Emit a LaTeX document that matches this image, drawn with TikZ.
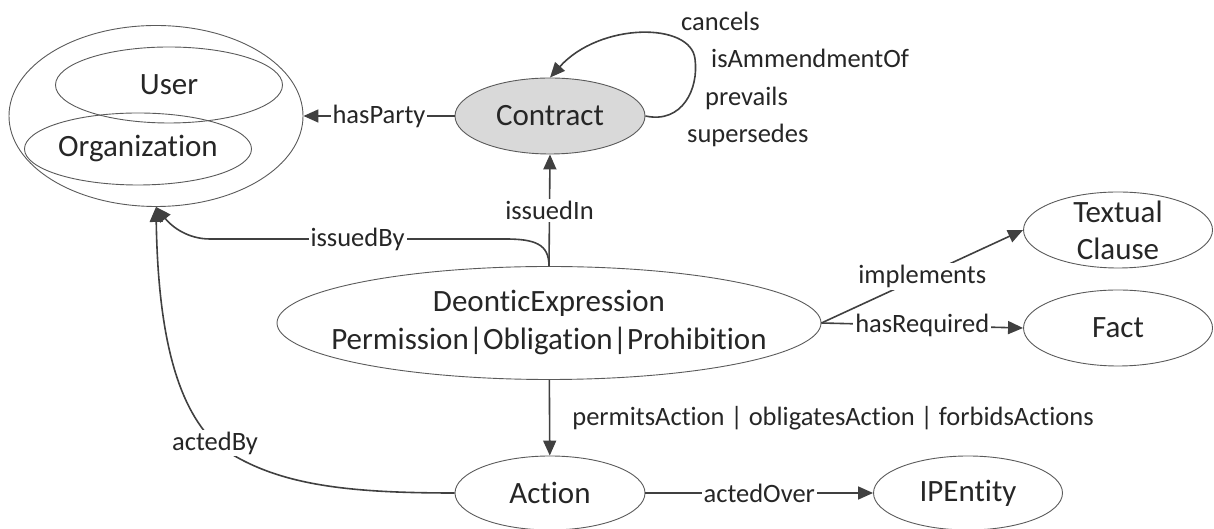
\documentclass[tikz,border=0pt]{standalone}
\usepackage{fontspec}
\setmainfont{Carlito}[Ligatures=NoCommon]
\usetikzlibrary{shapes.geometric,arrows.meta}
\definecolor{edgegray}{HTML}{404040}
\definecolor{rimgray}{HTML}{5A5A5A}
\definecolor{contractgray}{HTML}{D9D9D9}
\begin{document}
\begin{tikzpicture}[x=1pt, y=1pt, >={Triangle[length=15pt,width=13pt]}]
	\tikzstyle{concept} = [ellipse, draw=rimgray, line width=0.9pt, inner sep=0pt, align=center, text=black!85, font=\fontsize{31}{38}\selectfont]
	\tikzstyle{rel} = [fill=white, inner sep=2pt, text=black!85, font=\fontsize{26.5}{32}\selectfont]
	\tikzstyle{link} = [color=edgegray, line width=1.6pt, ->]
	\useasboundingbox (0,0) rectangle (1214,529);
	\node[concept, minimum width=294pt, minimum height=181pt](party)at (156,413){};
	\node[concept, minimum width=227pt, minimum height=76pt](user)at (169,444){User};
	\node[concept, minimum width=227pt, minimum height=72pt, inner xsep=-2pt](org)at (138,380){Organization};
	\node[concept, fill=contractgray, minimum width=190pt, minimum height=76pt](contract)at (550,413){Contract};
	\node[concept, minimum width=544pt, minimum height=113pt, inner xsep=-34pt](deontic)at (549,206){DeonticExpression\\Permission|Obligation|Prohibition};
	\node[concept, minimum width=189pt, minimum height=76pt, inner ysep=-8pt, font=\fontsize{31}{37}\selectfont](textual)at (1118,299){Textual\\Clause};
	\node[concept, minimum width=189pt, minimum height=76pt](fact)at (1118,201){Fact};
	\node[concept, minimum width=190pt, minimum height=74pt](action)at (550,36){Action};
	\node[concept, minimum width=189pt, minimum height=74pt](ipentity)at (968,36){IPEntity};
	% labels of the self loop on Contract
	\node[rel, anchor=west](cancels)at (679,508){cancels};
	\node[rel, anchor=west](amends)at (709,471){isAmmendmentOf};
	\node[rel, anchor=west](prevails)at (703,431){prevails};
	\node[rel, anchor=west](supersedes)at (685,394){supersedes};
	\path[link] (contract.west) edge node[rel]{hasParty} (party.east)
	(deontic.north) edge node[rel]{issuedIn} (contract.south)
	(deontic.east) edge node[rel]{implements} (textual.west)
	(deontic.east) edge node[rel]{hasRequired} (fact.west)
	(deontic) edge node[rel, fill=none, midway, anchor=west, xshift=20pt]{permitsAction | obligatesAction | forbidsActions} (action)
	(action.east) edge node[rel]{actedOver} (ipentity.west);
	\draw[link] (contract.east) .. controls (682,405) and (699,440) .. (695,470) .. controls (691,507) and (600,507) .. (contract.north);
	\draw[link] (deontic.north) .. controls (549,285) and (535,290) .. (505,290) -- node[rel]{issuedBy} (210,290) .. controls (188,290) and (172,302) .. (party.south);
	\draw[link] (action.west) .. controls (340,36) and (270,45) .. (215,86) node[rel]{actedBy} .. controls (175,125) and (158,200) .. (party.south);
\end{tikzpicture}
\end{document}
